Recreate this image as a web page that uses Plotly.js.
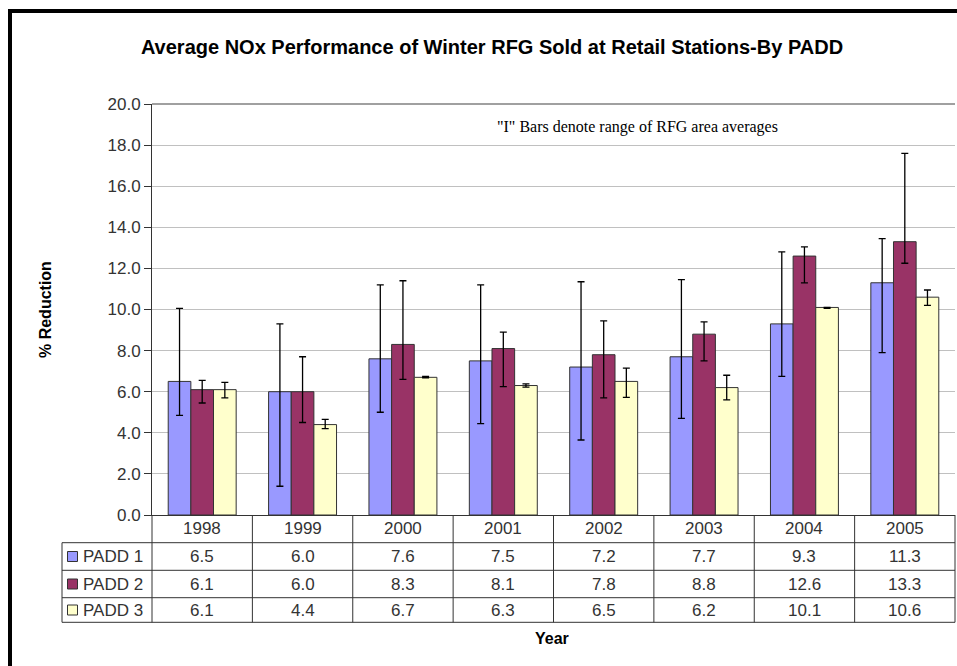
<!DOCTYPE html>
<html>
<head>
<meta charset="utf-8">
<script src="https://cdn.plot.ly/plotly-3.0.1.min.js"></script>
<style>
  html, body { margin: 0; padding: 0; background: #ffffff; }
  #chart { width: 957px; height: 666px; }
</style>
</head>
<body>
<div id="chart"></div>
<script>
// ---- data ----
const years = ['1998', '1999', '2000', '2001', '2002', '2003', '2004', '2005'];
const seriesNames = ['PADD 1', 'PADD 2', 'PADD 3'];
const padd1 = [6.5, 6.0, 7.6, 7.5, 7.2, 7.7, 9.3, 11.3];
const padd2 = [6.1, 6.0, 8.3, 8.1, 7.8, 8.8, 12.6, 13.3];
const padd3 = [6.1, 4.4, 6.7, 6.3, 6.5, 6.2, 10.1, 10.6];
// range of RFG area averages ("I" bars)
const padd1High = [10.05, 9.3, 11.2, 11.2, 11.35, 11.45, 12.8, 13.45];
const padd1Low  = [4.85, 1.4, 5.0, 4.45, 3.65, 4.7, 6.75, 7.9];
const padd2High = [6.55, 7.7, 11.4, 8.9, 9.45, 9.4, 13.05, 17.6];
const padd2Low  = [5.45, 4.5, 6.6, 6.25, 5.7, 7.5, 11.3, 12.25];
const padd3High = [6.45, 4.65, 6.75, 6.38, 7.15, 6.8, 10.1, 10.95];
const padd3Low  = [5.7, 4.2, 6.68, 6.22, 5.72, 5.6, 10.05, 10.2];

const yTicks = [0, 2, 4, 6, 8, 10, 12, 14, 16, 18, 20];

// ---- styling ----
const colors = ['#9999FF', '#993366', '#FFFFCC'];
const textColor = '#333333';
const lineColor = '#333333';
const W = 957, H = 666;
const L = 152, R = 955, T = 104, B = 515;
const px = v => (v - L) / (R - L);
const py = v => (B - v) / (B - T);

const values = [padd1, padd2, padd3];
const highs = [padd1High, padd2High, padd3High];
const lows = [padd1Low, padd2Low, padd3Low];

const traces = values.map((vals, s) => ({
  type: 'bar',
  name: seriesNames[s],
  x: years,
  y: vals,
  marker: { color: colors[s], line: { color: lineColor, width: 1 } },
  error_y: {
    type: 'data',
    symmetric: false,
    array: vals.map((v, i) => highs[s][i] - v),
    arrayminus: vals.map((v, i) => v - lows[s][i]),
    color: '#000000',
    thickness: 1.3,
    width: 3.5
  },
  hoverinfo: 'x+y+name'
}));

const shapes = [];
const annotations = [];

// outer frame (black lines top and left)
shapes.push({ type: 'line', xref: 'paper', yref: 'paper', x0: px(10), x1: px(10), y0: py(9), y1: py(666), line: { color: '#000', width: 4 } });
shapes.push({ type: 'line', xref: 'paper', yref: 'paper', x0: px(8), x1: px(957), y0: py(11), y1: py(11), line: { color: '#000', width: 4 } });

// top border of plot area
shapes.push({ type: 'line', xref: 'paper', yref: 'paper', x0: 0, x1: 1, y0: 1, y1: 1, line: { color: '#808080', width: 1.5 } });

// data table geometry
const rowY = [515, 542.7, 570.3, 597.7, 622.3];
for (let r = 1; r <= 4; r++) {
  shapes.push({ type: 'line', xref: 'paper', yref: 'paper', x0: px(62), x1: 1, y0: py(rowY[r]), y1: py(rowY[r]), line: { color: lineColor, width: 1 } });
}
shapes.push({ type: 'line', xref: 'paper', yref: 'paper', x0: px(62), x1: px(62), y0: py(rowY[1]), y1: py(rowY[4]), line: { color: lineColor, width: 1 } });
for (let k = 0; k <= years.length; k++) {
  const xx = k / years.length;
  shapes.push({ type: 'line', xref: 'paper', yref: 'paper', x0: xx, x1: xx, y0: 0, y1: py(rowY[4]), line: { color: lineColor, width: 1 } });
}

const tableFont = { family: 'Liberation Sans, Arial, sans-serif', size: 17, color: textColor };
// year header (category index positions on the x axis)
years.forEach((yr, i) => {
  annotations.push({ xref: 'x', yref: 'paper', x: i, y: py((rowY[0] + rowY[1]) / 2), text: yr, showarrow: false, font: tableFont, xanchor: 'center', yanchor: 'middle' });
});
// rows
values.forEach((vals, s) => {
  const ycp = (rowY[s + 1] + rowY[s + 2]) / 2;
  const yc = py(ycp);
  vals.forEach((v, i) => {
    annotations.push({ xref: 'x', yref: 'paper', x: i, y: yc, text: v.toFixed(1), showarrow: false, font: tableFont, xanchor: 'center', yanchor: 'middle' });
  });
  // legend key
  shapes.push({ type: 'rect', xref: 'paper', yref: 'paper', x0: px(67.5), x1: px(77.5), y0: py(ycp - 5), y1: py(ycp + 5), fillcolor: colors[s], line: { color: lineColor, width: 1 } });
  annotations.push({ xref: 'paper', yref: 'paper', x: px(81), y: yc, text: seriesNames[s], showarrow: false, font: tableFont, xanchor: 'left', yanchor: 'middle' });
});

// note text
annotations.push({ xref: 'paper', yref: 'paper', x: px(637), y: py(127), text: '"I" Bars denote range of RFG area averages', showarrow: false,
  font: { family: 'Liberation Serif, Times New Roman, serif', size: 16, color: '#000' }, xanchor: 'center', yanchor: 'middle' });

// x axis title
annotations.push({ xref: 'paper', yref: 'paper', x: px(552), y: py(638), text: '<b>Year</b>', showarrow: false,
  font: { family: 'Liberation Sans, Arial, sans-serif', size: 16, color: '#000' }, xanchor: 'center', yanchor: 'middle' });

// y axis title
annotations.push({ xref: 'paper', yref: 'paper', x: px(45), y: py(310), text: '<b>% Reduction</b>', showarrow: false, textangle: -90,
  font: { family: 'Liberation Sans, Arial, sans-serif', size: 16, color: '#000' }, xanchor: 'center', yanchor: 'middle' });

const layout = {
  width: W, height: H, autosize: false,
  margin: { l: L, r: W - R, t: T, b: H - B, pad: 0 },
  paper_bgcolor: '#ffffff',
  plot_bgcolor: '#ffffff',
  showlegend: false,
  barmode: 'group',
  bargap: 0.323,
  bargroupgap: 0,
  title: {
    text: '<b>Average NOx Performance of Winter RFG Sold at Retail Stations-By PADD</b>',
    font: { family: 'Liberation Sans, Arial, sans-serif', size: 20, color: '#000' },
    x: px(492), xanchor: 'center', xref: 'paper',
    y: 1 - 47 / H, yanchor: 'middle', yref: 'container'
  },
  xaxis: {
    type: 'category',
    categoryorder: 'array', categoryarray: years,
    range: [-0.5, years.length - 0.5],
    autorange: false,
    showticklabels: false,
    ticks: '',
    showline: true, linecolor: lineColor, linewidth: 1,
    showgrid: false, zeroline: false,
    fixedrange: true
  },
  yaxis: {
    range: [0, 20],
    autorange: false,
    tickvals: yTicks,
    ticktext: yTicks.map(v => v.toFixed(1)),
    ticks: 'outside', ticklen: 7, tickcolor: lineColor, tickwidth: 1,
    tickfont: { family: 'Liberation Sans, Arial, sans-serif', size: 17, color: textColor },
    showline: true, linecolor: lineColor, linewidth: 1,
    showgrid: true, gridcolor: '#c0c0c0', gridwidth: 1,
    zeroline: false,
    fixedrange: true
  },
  shapes: shapes,
  annotations: annotations
};

Plotly.newPlot('chart', traces, layout, { displayModeBar: false, staticPlot: true });
</script>
</body>
</html>
